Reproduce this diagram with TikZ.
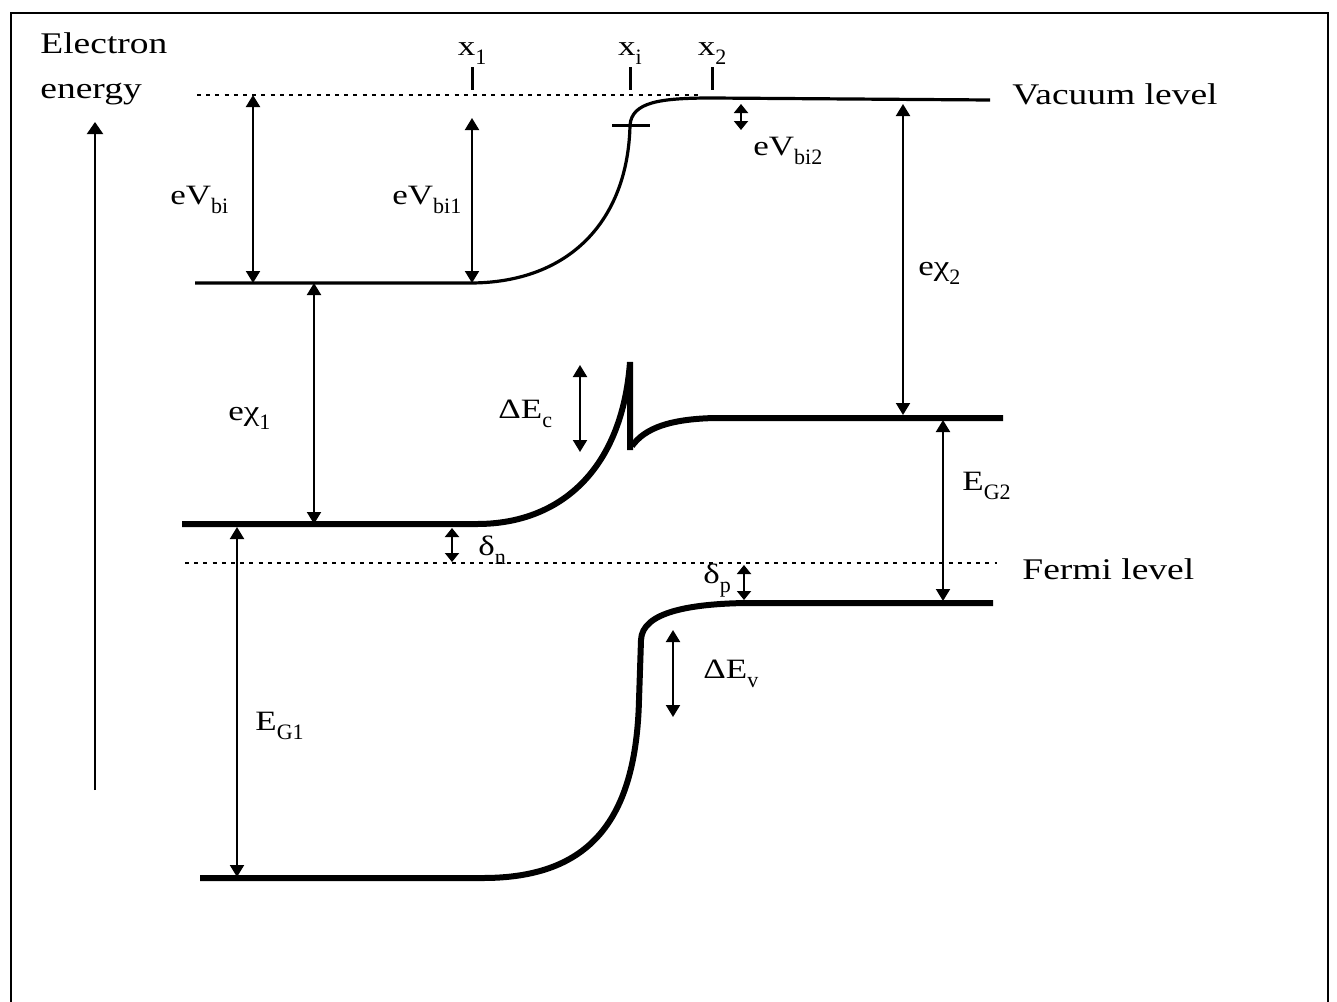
\documentclass[tikz,border=0pt]{standalone}
\usepackage{fontspec}
\setmainfont{Liberation Serif}[FakeStretch=1.25]
\newfontfamily\subfam{Liberation Serif}
\usetikzlibrary{arrows.meta}
\newcommand{\lo}[1]{\raisebox{-4.5pt}{\subfam\fontsize{11}{11}\selectfont #1}}
\tikzset{
  band/.style={line width=3pt},
  vac/.style={line width=1.6pt},
  level/.style={line width=0.9pt, dash pattern=on 2pt off 2.6pt},
  gap/.style={<->, line width=1pt, >={Triangle[length=6pt,width=7pt]}},
  smallgap/.style={<->, line width=1pt, >={Triangle[length=4.5pt,width=7pt]}},
  tickmark/.style={line width=1.5pt},
  lab/.style={anchor=base west, inner sep=0pt, font=\fontsize{14}{14}\selectfont},
  big/.style={anchor=base west, inner sep=0pt, font=\fontsize{15}{15}\selectfont}
}
\begin{document}
\begin{tikzpicture}[x=0.5pt,y=-0.5pt]
\useasboundingbox (0,0) rectangle (1337,1001);
% frame
\draw[line width=1pt] (11,1010) -- (11,13) -- (1328,13) -- (1328,1010);

% energy axis
\draw[line width=1pt,-{Triangle[length=6pt,width=8pt]}] (95,790) -- (95,122);
\node[big] (elec) at (40,53) {Electron};
\node[big] (ener) at (40,98) {energy};

% dotted reference levels
\draw[level] (197,95) -- (700,95);
\draw[level] (185,563) -- (997,563);
\node[big] (vaclab) at (1012,104) {Vacuum level};
\node[big] (fermlab) at (1022,579) {Fermi level};

% positions x1, xi, x2
\foreach \x/\s in {472/1, 630/i, 712/2} {
  \draw[tickmark] (\x,67) -- (\x,90);
  \node[lab, anchor=base] (pos\s) at (\x,55) {x\lo{\s}};
}

% vacuum level
\draw[vac] (195,283) -- (470,283)
  .. controls (570,283) and (628,220) .. (630,125)
  .. controls (632,102) and (660,98) .. (712,98) -- (990,100);
\draw[tickmark] (612,125) -- (650,125);

% conduction band
\draw[band] (182,524) -- (477,524)
  .. controls (560,524) and (622,470) .. (630,362) -- (630,450);
\draw[band] (632,446) .. controls (645,428) and (670,419) .. (715,418) -- (1003,418);

% valence band
\draw[band] (200,878) -- (483,878)
  .. controls (590,878) and (636,820) .. (639,700) -- (641,640)
  .. controls (642,612) and (690,604) .. (745,603) -- (993,603);

% energy differences
\draw[gap] (253,95) -- (253,283);
\draw[gap] (472,118) -- (472,283);
\draw[smallgap] (741,104) -- (741,130);
\draw[gap] (314,283) -- (314,524);
\draw[gap] (903,104) -- (903,415);
\draw[gap] (943,420) -- (943,601);
\draw[gap] (580,365) -- (580,452);
\draw[smallgap] (452,528) -- (452,562);
\draw[smallgap] (744,565) -- (744,600);
\draw[gap] (673,630) -- (673,717);
\draw[gap] (237,527) -- (237,877);

\node[lab] (vbi) at (170,204) {eV\lo{bi}};
\node[lab] (vbia) at (392,204) {eV\lo{bi1}};
\node[lab] (vbib) at (753,155) {eV\lo{bi2}};
\node[lab] (chib) at (918,275) {eχ\lo{2}};
\node[lab] (chia) at (228,420) {eχ\lo{1}};
\node[lab] (dec) at (498,418) {ΔE\lo{c}};
\node[lab] (egb) at (962,490) {E\lo{G2}};
\node[lab] (dn) at (478,555) {δ\lo{n}};
\node[lab] (dp) at (703,583) {δ\lo{p}};
\node[lab] (dev) at (703,678) {ΔE\lo{v}};
\node[lab] (ega) at (255,730) {E\lo{G1}};
\end{tikzpicture}
\end{document}
